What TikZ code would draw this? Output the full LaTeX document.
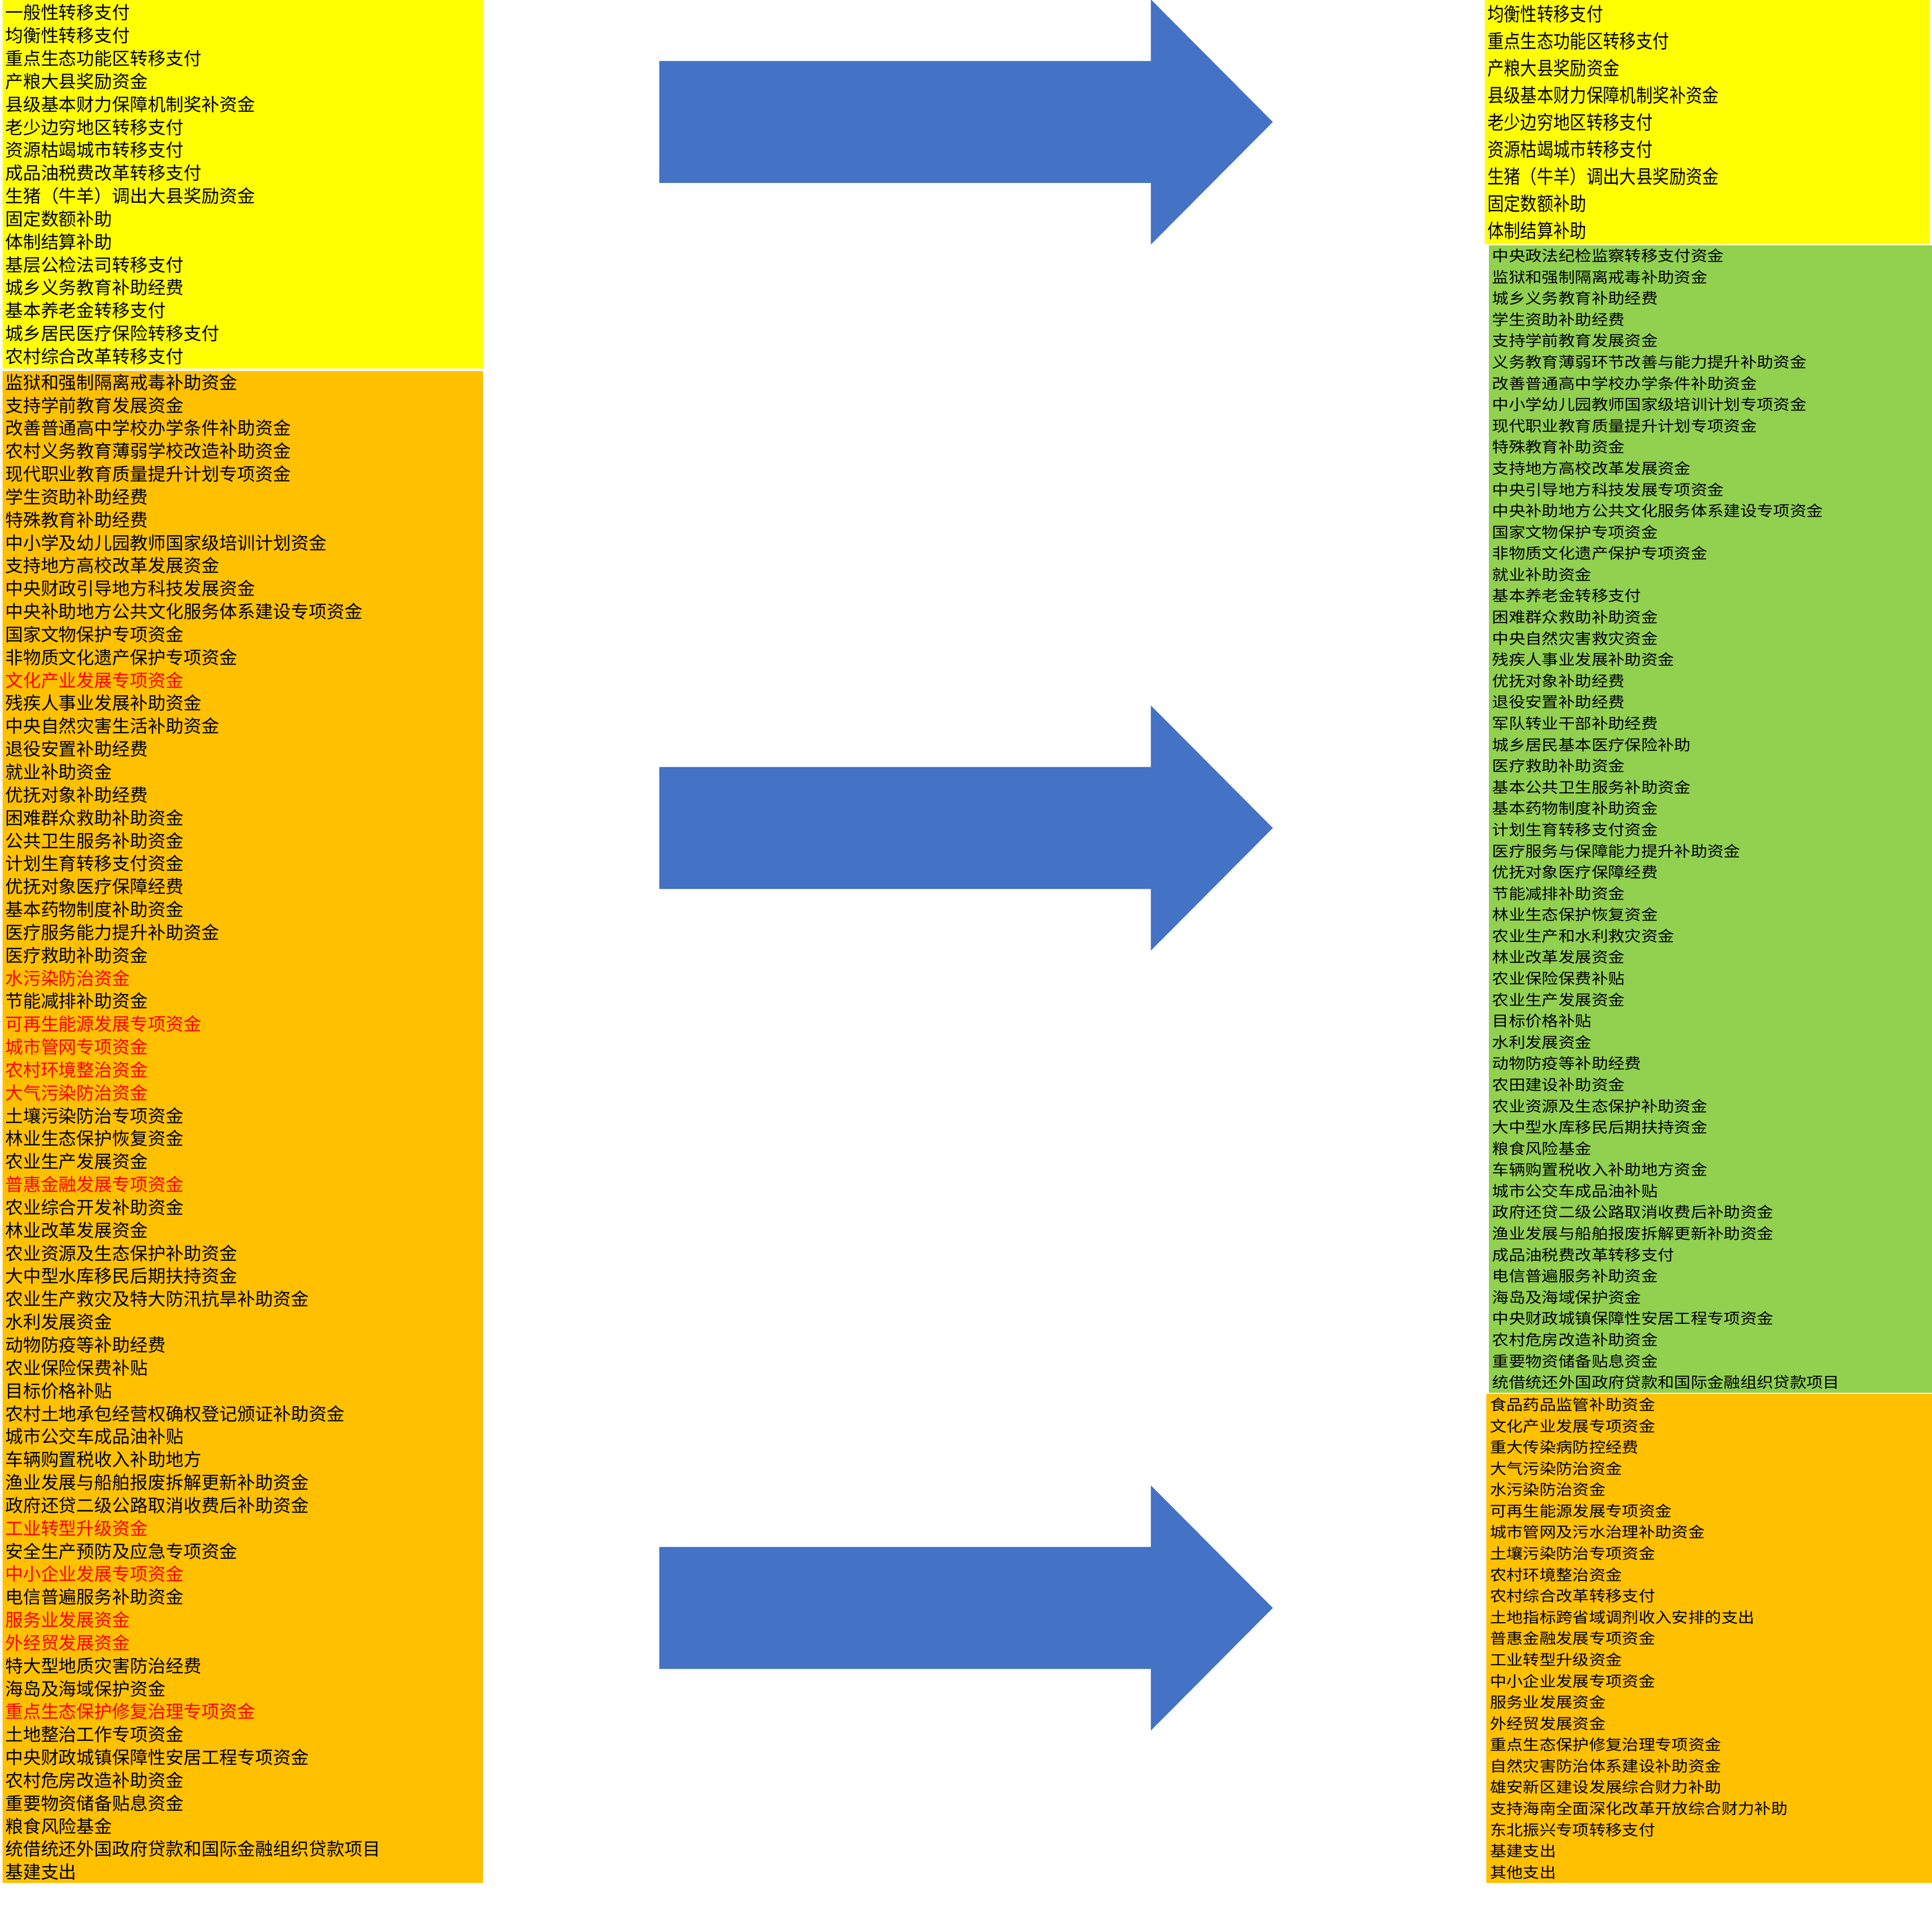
\documentclass[tikz,border=0pt]{standalone}
\usepackage{fontspec}
\usepackage{xcolor}
\usepackage{tikz}
\newfontfamily\cjk{Noto Sans CJK SC}
\newfontfamily\cjkwide[FakeStretch=1.1]{Noto Sans CJK SC}
\newfontfamily\cjktall[FakeStretch=0.86]{Noto Sans CJK SC}
\definecolor{listyellow}{RGB}{255,255,0}
\definecolor{listorange}{RGB}{255,192,0}
\definecolor{listgreen}{RGB}{146,208,80}
\definecolor{arrowblue}{RGB}{68,114,196}
\newcommand{\moved}[1]{\textcolor{red}{#1}}

\begin{document}
\begin{tikzpicture}[x=1pt, y=-1pt,
  listbox/.style={anchor=north west, align=left, inner xsep=2pt, inner ysep=0pt},
  leftlist/.style={listbox, font=\cjk\fontsize{14.5pt}{18.6pt}\selectfont, minimum width=390pt, text width=386pt},
  rightlist/.style={listbox, font=\cjkwide\fontsize{12.2pt}{17.25pt}\selectfont, minimum width=360pt, text width=356pt}]
\useasboundingbox (0,0) rectangle (1568,1568);
\fill[white] (0,0) rectangle (1568,1568);

% left column
\node[leftlist, fill=listyellow, minimum height=299pt] (lyellow) at (2,0) {一般性转移支付\\均衡性转移支付\\重点生态功能区转移支付\\产粮大县奖励资金\\县级基本财力保障机制奖补资金\\老少边穷地区转移支付\\资源枯竭城市转移支付\\成品油税费改革转移支付\\生猪（牛羊）调出大县奖励资金\\固定数额补助\\体制结算补助\\基层公检法司转移支付\\城乡义务教育补助经费\\基本养老金转移支付\\城乡居民医疗保险转移支付\\农村综合改革转移支付};
\node[leftlist, fill=listorange, minimum height=1227pt] (lorange) at (2,301) {监狱和强制隔离戒毒补助资金\\支持学前教育发展资金\\改善普通高中学校办学条件补助资金\\农村义务教育薄弱学校改造补助资金\\现代职业教育质量提升计划专项资金\\学生资助补助经费\\特殊教育补助经费\\中小学及幼儿园教师国家级培训计划资金\\支持地方高校改革发展资金\\中央财政引导地方科技发展资金\\中央补助地方公共文化服务体系建设专项资金\\国家文物保护专项资金\\非物质文化遗产保护专项资金\\\moved{文化产业发展专项资金}\\残疾人事业发展补助资金\\中央自然灾害生活补助资金\\退役安置补助经费\\就业补助资金\\优抚对象补助经费\\困难群众救助补助资金\\公共卫生服务补助资金\\计划生育转移支付资金\\优抚对象医疗保障经费\\基本药物制度补助资金\\医疗服务能力提升补助资金\\医疗救助补助资金\\\moved{水污染防治资金}\\节能减排补助资金\\\moved{可再生能源发展专项资金}\\\moved{城市管网专项资金}\\\moved{农村环境整治资金}\\\moved{大气污染防治资金}\\土壤污染防治专项资金\\林业生态保护恢复资金\\农业生产发展资金\\\moved{普惠金融发展专项资金}\\农业综合开发补助资金\\林业改革发展资金\\农业资源及生态保护补助资金\\大中型水库移民后期扶持资金\\农业生产救灾及特大防汛抗旱补助资金\\水利发展资金\\动物防疫等补助经费\\农业保险保费补贴\\目标价格补贴\\农村土地承包经营权确权登记颁证补助资金\\城市公交车成品油补贴\\车辆购置税收入补助地方\\渔业发展与船舶报废拆解更新补助资金\\政府还贷二级公路取消收费后补助资金\\\moved{工业转型升级资金}\\安全生产预防及应急专项资金\\\moved{中小企业发展专项资金}\\电信普遍服务补助资金\\\moved{服务业发展资金}\\\moved{外经贸发展资金}\\特大型地质灾害防治经费\\海岛及海域保护资金\\\moved{重点生态保护修复治理专项资金}\\土地整治工作专项资金\\中央财政城镇保障性安居工程专项资金\\农村危房改造补助资金\\重要物资储备贴息资金\\粮食风险基金\\统借统还外国政府贷款和国际金融组织贷款项目\\基建支出};

% arrows
\foreach \ay in {99,672,1305}
  \fill[arrowblue] (535,{\ay-49.5}) -- (934,{\ay-49.5}) -- (934,{\ay-99.5}) -- (1033,\ay)
    -- (934,{\ay+99.5}) -- (934,{\ay+49.5}) -- (535,{\ay+49.5}) -- cycle;

% right column
\node[listbox, fill=listyellow, font=\cjktall\fontsize{15.6pt}{22pt}\selectfont, minimum width=361pt, text width=357pt, minimum height=198pt] (ryellow) at (1205,0) {均衡性转移支付\\重点生态功能区转移支付\\产粮大县奖励资金\\县级基本财力保障机制奖补资金\\老少边穷地区转移支付\\资源枯竭城市转移支付\\生猪（牛羊）调出大县奖励资金\\固定数额补助\\体制结算补助};
\node[rightlist, fill=listgreen, minimum height=931pt, inner xsep=3pt, text width=354pt] (rgreen) at (1208,199) {中央政法纪检监察转移支付资金\\监狱和强制隔离戒毒补助资金\\城乡义务教育补助经费\\学生资助补助经费\\支持学前教育发展资金\\义务教育薄弱环节改善与能力提升补助资金\\改善普通高中学校办学条件补助资金\\中小学幼儿园教师国家级培训计划专项资金\\现代职业教育质量提升计划专项资金\\特殊教育补助资金\\支持地方高校改革发展资金\\中央引导地方科技发展专项资金\\中央补助地方公共文化服务体系建设专项资金\\国家文物保护专项资金\\非物质文化遗产保护专项资金\\就业补助资金\\基本养老金转移支付\\困难群众救助补助资金\\中央自然灾害救灾资金\\残疾人事业发展补助资金\\优抚对象补助经费\\退役安置补助经费\\军队转业干部补助经费\\城乡居民基本医疗保险补助\\医疗救助补助资金\\基本公共卫生服务补助资金\\基本药物制度补助资金\\计划生育转移支付资金\\医疗服务与保障能力提升补助资金\\优抚对象医疗保障经费\\节能减排补助资金\\林业生态保护恢复资金\\农业生产和水利救灾资金\\林业改革发展资金\\农业保险保费补贴\\农业生产发展资金\\目标价格补贴\\水利发展资金\\动物防疫等补助经费\\农田建设补助资金\\农业资源及生态保护补助资金\\大中型水库移民后期扶持资金\\粮食风险基金\\车辆购置税收入补助地方资金\\城市公交车成品油补贴\\政府还贷二级公路取消收费后补助资金\\渔业发展与船舶报废拆解更新补助资金\\成品油税费改革转移支付\\电信普遍服务补助资金\\海岛及海域保护资金\\中央财政城镇保障性安居工程专项资金\\农村危房改造补助资金\\重要物资储备贴息资金\\统借统还外国政府贷款和国际金融组织贷款项目};
\node[rightlist, fill=listorange, minimum width=362pt, minimum height=397pt] (rorange) at (1206,1131) {食品药品监管补助资金\\文化产业发展专项资金\\重大传染病防控经费\\大气污染防治资金\\水污染防治资金\\可再生能源发展专项资金\\城市管网及污水治理补助资金\\土壤污染防治专项资金\\农村环境整治资金\\农村综合改革转移支付\\土地指标跨省域调剂收入安排的支出\\普惠金融发展专项资金\\工业转型升级资金\\中小企业发展专项资金\\服务业发展资金\\外经贸发展资金\\重点生态保护修复治理专项资金\\自然灾害防治体系建设补助资金\\雄安新区建设发展综合财力补助\\支持海南全面深化改革开放综合财力补助\\东北振兴专项转移支付\\基建支出\\其他支出};
\end{tikzpicture}
\end{document}
